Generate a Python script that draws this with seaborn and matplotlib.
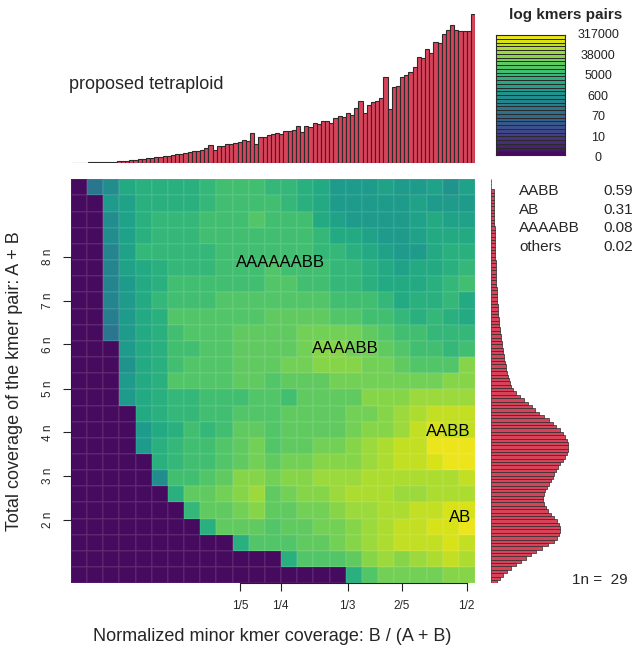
import numpy as np
import pandas as pd
import seaborn as sns
import matplotlib
matplotlib.use('Agg')
import matplotlib.pyplot as plt
from matplotlib.colors import ListedColormap

W, H = 635, 648

# log-scaled kmer pair density, as index into the 32 colour ramp (rows: high coverage at top)
kmer_levels = [
    [0, 12, 15, 19, 20, 20, 20, 20, 21, 22, 22, 22, 21, 21, 20, 19, 17, 17, 17, 18, 17, 17, 18, 16, 18],
    [0, 0, 17, 18, 20, 20, 20, 20, 21, 22, 22, 22, 22, 21, 20, 19, 17, 17, 17, 17, 17, 18, 17, 17, 17],
    [0, 0, 15, 18, 20, 21, 21, 21, 22, 22, 22, 23, 22, 22, 22, 19, 18, 17, 17, 17, 17, 18, 19, 18, 18],
    [0, 0, 15, 18, 20, 21, 21, 21, 22, 22, 22, 22, 22, 22, 22, 21, 19, 19, 18, 17, 17, 18, 19, 19, 19],
    [0, 0, 14, 18, 21, 21, 21, 21, 21, 22, 22, 22, 22, 22, 22, 21, 21, 20, 19, 18, 17, 17, 19, 20, 20],
    [0, 0, 14, 18, 19, 20, 21, 21, 21, 22, 22, 22, 23, 22, 22, 22, 21, 21, 20, 19, 18, 19, 19, 20, 21],
    [0, 0, 14, 17, 19, 20, 22, 22, 22, 22, 22, 22, 23, 23, 22, 22, 21, 21, 20, 19, 19, 19, 20, 21, 22],
    [0, 0, 14, 17, 19, 21, 22, 22, 22, 23, 23, 23, 23, 23, 23, 23, 22, 22, 22, 21, 19, 20, 20, 21, 19],
    [0, 0, 13, 17, 19, 20, 23, 23, 23, 23, 23, 23, 24, 24, 24, 24, 23, 23, 22, 22, 21, 20, 21, 20, 19],
    [0, 0, 12, 17, 19, 20, 22, 23, 23, 23, 24, 24, 24, 24, 25, 25, 25, 25, 24, 23, 22, 22, 21, 21, 21],
    [0, 0, 0, 17, 19, 20, 22, 22, 23, 23, 24, 24, 24, 24, 25, 26, 26, 25, 25, 24, 23, 22, 22, 21, 22],
    [0, 0, 0, 16, 19, 20, 22, 23, 23, 23, 24, 24, 24, 25, 25, 26, 26, 26, 25, 25, 24, 23, 23, 23, 26],
    [0, 0, 0, 17, 19, 20, 23, 23, 23, 23, 24, 24, 23, 24, 24, 24, 25, 25, 25, 25, 25, 25, 25, 26, 26],
    [0, 0, 0, 17, 19, 20, 21, 21, 22, 22, 22, 23, 23, 22, 24, 24, 24, 24, 26, 26, 26, 27, 27, 27, 27],
    [0, 0, 0, 0, 19, 20, 21, 21, 22, 22, 23, 23, 23, 24, 24, 24, 24, 25, 25, 26, 27, 28, 29, 29, 29],
    [0, 0, 0, 0, 17, 19, 20, 22, 21, 22, 24, 24, 23, 24, 24, 24, 24, 25, 26, 26, 27, 29, 30, 29, 29],
    [0, 0, 0, 0, 17, 20, 21, 22, 22, 23, 24, 25, 23, 24, 24, 25, 25, 26, 27, 28, 29, 29, 31, 31, 31],
    [0, 0, 0, 0, 0, 20, 21, 22, 22, 23, 24, 25, 24, 25, 25, 26, 26, 26, 27, 28, 29, 29, 30, 31, 31],
    [0, 0, 0, 0, 0, 15, 22, 22, 23, 24, 26, 26, 25, 26, 26, 27, 27, 27, 28, 28, 28, 28, 28, 28, 29],
    [0, 0, 0, 0, 0, 0, 20, 24, 24, 25, 26, 27, 24, 25, 26, 26, 27, 28, 28, 28, 27, 27, 28, 28, 28],
    [0, 0, 0, 0, 0, 0, 0, 21, 24, 24, 25, 26, 24, 24, 25, 25, 26, 27, 27, 28, 28, 29, 29, 30, 30],
    [0, 0, 0, 0, 0, 0, 0, 0, 20, 24, 24, 24, 23, 24, 24, 25, 25, 26, 27, 28, 29, 29, 30, 30, 31],
    [0, 0, 0, 0, 0, 0, 0, 0, 0, 0, 20, 23, 23, 23, 24, 24, 25, 26, 27, 28, 29, 29, 29, 30, 29],
    [0, 0, 0, 0, 0, 0, 0, 0, 0, 0, 0, 0, 0, 20, 23, 23, 23, 24, 26, 27, 26, 27, 28, 29, 28],
    [0, 0, 0, 0, 0, 0, 0, 0, 0, 0, 0, 0, 0, 0, 0, 0, 0, 20, 23, 25, 25, 25, 25, 26, 26],
]

ratio_labels = ['1/5', '1/4', '1/3', '2/5', '1/2']
cov_labels = ['2 n', '3 n', '4 n', '5 n', '6 n', '7 n', '8 n']

# histogram of minor kmer coverage ratio (top)
minor_hist = [
    0.5, 0.6, 0.7, 0.8, 0.9, 1.0, 1.1, 1.2, 1.4, 1.6,
    1.8, 2.1, 2.4, 2.7, 3.1, 3.5, 3.9, 4.4, 4.9, 5.4,
    6.0, 6.5, 7.1, 7.7, 8.3, 9.0, 9.7, 10.4, 11.2, 12.0,
    12.8, 13.7, 15.0, 18.3, 13.3, 17.3, 17.3, 19.3, 19.3, 20.0,
    21.0, 23.3, 22.3, 30.7, 19.3, 26.7, 26.7, 28.3, 29.3, 30.0,
    29.0, 32.7, 32.3, 33.0, 37.7, 31.0, 37.3, 36.6, 40.3, 39.0,
    42.6, 42.6, 40.6, 45.3, 47.6, 46.6, 50.0, 48.3, 55.0, 62.6,
    50.6, 58.0, 61.6, 62.6, 65.0, 86.6, 54.0, 76.0, 77.6, 86.6,
    88.3, 91.6, 96.0, 106.6, 105.0, 114.0, 110.6, 121.3, 120.6, 129.3,
    133.3, 138.0, 133.3, 132.6, 132.6, 132.6, 149.0,
]

# histogram of total coverage (right), low coverage first
cov_hist = [
    6, 9, 12, 16, 20, 25, 30, 35, 40, 45,
    51, 57, 63, 66, 68, 69, 69, 68, 66, 63,
    60, 57, 55, 53, 52, 52, 53, 54, 56, 58,
    60, 62, 63, 65, 67, 69, 72, 74, 76, 77,
    77, 77, 76, 74, 72, 69, 65, 62, 58, 53,
    48, 44, 41, 37, 33, 29, 25, 22, 20, 19,
    18, 17, 16, 15, 14.5, 14, 13, 12.5, 12, 11.5,
    11, 10.5, 10, 9.6, 9.2, 8.8, 8.4, 8, 7.7, 7.4,
    7.1, 6.8, 6.6, 6.4, 6.2, 6, 5.8, 5.6, 5.4, 5.2,
    5, 4.9, 4.8, 4.7, 4.6, 4.5, 4.4, 4.3, 4.2, 4.1,
    4, 3.9, 3.8, 3.7, 3.6, 3.5, 3.4, 3.3, 3.2, 3.1,
    3, 3, 3, 3, 3, 3, 3, 0, 0, 0,
]

legend_labels = ['0', '10', '70', '600', '5000', '38000', '317000']
smudge_names = ['AABB', 'AB', 'AAAABB', 'others']
smudge_props = ['0.59', '0.31', '0.08', '0.02']
peak_labels = ['AAAAAABB', 'AAAABB', 'AABB', 'AB']
peak_xy = [(12.96, 5.12), (16.96, 10.5), (23.33, 15.58), (24.07, 20.9)]
one_n = '29'

RED = '#D9435A'
EDGE = '#2b2b2b'

sns.set_theme(style='white')
plt.rcParams['font.family'] = ['Liberation Sans', 'DejaVu Sans']

fig = plt.figure(figsize=(W / 100, H / 100), dpi=100)


def fax(x0, y0, x1, y1):
    # pixel box (top-left origin) -> axes in figure fraction
    return fig.add_axes([x0 / W, 1 - y1 / H, (x1 - x0) / W, (y1 - y0) / H])


ramp = ListedColormap(sns.color_palette('viridis', 32))

# main smudge heatmap
ax = fax(71, 179.3, 475, 583.3)
sns.heatmap(np.array(kmer_levels), cmap=ramp, vmin=-0.5, vmax=31.5, cbar=False,
            xticklabels=False, yticklabels=False, linewidths=0.25,
            linecolor=(1, 1, 1, 0.06), ax=ax)
cell = 16.16
xt = [(px - 71) / cell for px in (240, 280.7, 347.7, 402, 466.5)]
yt = [(py - 179.3) / cell for py in (520, 476.3, 432.3, 389, 344.3, 301, 257.3)]
ax.set_xticks(xt)
ax.set_xticklabels(ratio_labels, fontsize=8.5, rotation=0)
ax.set_yticks(yt)
ax.set_yticklabels(cov_labels, fontsize=8.5, rotation=90, va='center')
ax.tick_params(axis='both', which='both', length=6, width=0.8, color='#222222',
               direction='out', pad=6, bottom=True, left=True)
for s in ['top', 'right']:
    ax.spines[s].set_visible(False)
for s in ['left', 'bottom']:
    ax.spines[s].set_visible(True)
    ax.spines[s].set_color('#222222')
    ax.spines[s].set_linewidth(0.8)
ax.spines['bottom'].set_bounds(xt[0], xt[-1])
ax.spines['left'].set_bounds(yt[-1], yt[0])
for lab, (x, y) in zip(peak_labels, peak_xy):
    ax.text(x, y, lab, fontsize=12, ha='center', va='center', color='black')

# top histogram
ax_t = fax(71, 14.3, 475, 163.3)
sns.barplot(x=np.arange(len(minor_hist)), y=minor_hist, native_scale=True, color=RED,
            saturation=1, width=1, edgecolor=EDGE, linewidth=0.8, errorbar=None, ax=ax_t)
ax_t.set_xlim(-0.5, len(minor_hist) - 0.5)
ax_t.set_ylim(0, max(minor_hist))
ax_t.axis('off')

# right histogram
ax_r = fax(491, 179.3, 635, 583.3)
sns.barplot(x=cov_hist, y=np.arange(len(cov_hist)), orient='h', native_scale=True, color=RED,
            saturation=1, width=1, edgecolor=EDGE, linewidth=0.5, errorbar=None, ax=ax_r)
ax_r.set_ylim(-0.5, len(cov_hist) - 0.5)
ax_r.set_xlim(0, 144)
ax_r.axis('off')

# colour key
ax_c = fax(495.7, 35, 565, 155)
sns.heatmap(np.arange(31, -1, -1).reshape(-1, 1), cmap=ramp, vmin=-0.5, vmax=31.5, cbar=False,
            xticklabels=False, yticklabels=False, linewidths=0.6, linecolor='#2a2a2a', ax=ax_c)
for s in ax_c.spines.values():
    s.set_visible(True)
    s.set_color('#2a2a2a')
    s.set_linewidth(0.8)
fig.text(566 / W, 1 - 15 / H, 'log kmers pairs', fontsize=11, fontweight='bold',
         ha='center', va='center')
for k, lab in enumerate(legend_labels):
    fig.text(598 / W, 1 - (158.3 - 20.55 * k) / H, lab, fontsize=9, ha='center', va='center',
             color='#222222')

# smudge summary
for k, (nm, pr) in enumerate(zip(smudge_names, smudge_props)):
    yy = 1 - (191 + 18.6 * k) / H
    fig.text(519 / W, yy, nm, fontsize=11, ha='left', va='center')
    fig.text(603 / W, yy, pr, fontsize=11, ha='left', va='center')
fig.text(571.5 / W, 1 - 580 / H, '1n =  ' + one_n, fontsize=11, ha='left', va='center')

fig.text(69.3 / W, 1 - 84.3 / H, 'proposed tetraploid', fontsize=13, ha='left', va='center')
fig.text(272 / W, 1 - 636.7 / H, 'Normalized minor kmer coverage: B / (A + B)',
         fontsize=13, ha='center', va='center')
fig.text(15 / W, 1 - 381 / H, 'Total coverage of the kmer pair: A + B',
         fontsize=13, ha='center', va='center', rotation=90)

fig.savefig('out.png', dpi=100)
